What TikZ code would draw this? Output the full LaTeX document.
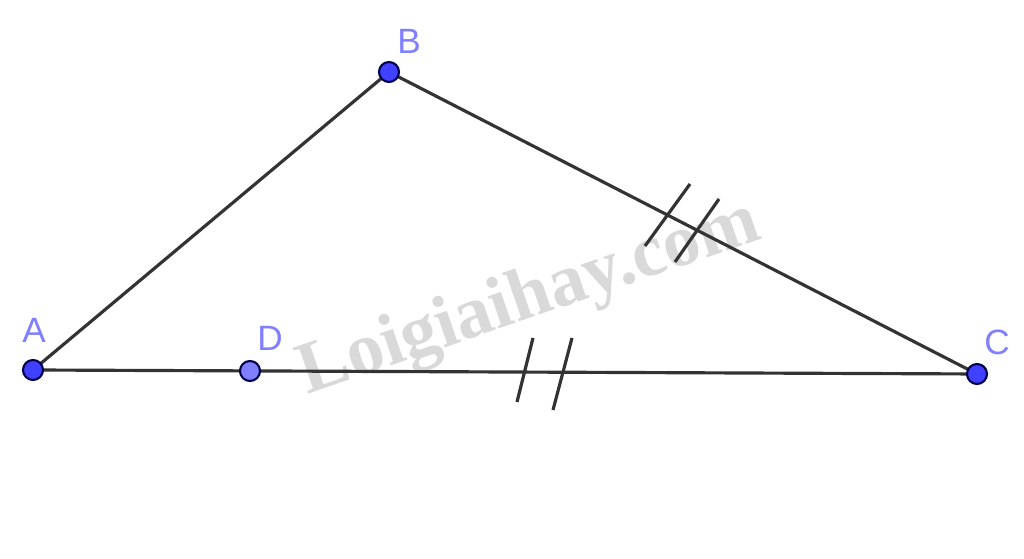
\documentclass[tikz,border=0pt]{standalone}
\usepackage{fontspec}
\setmainfont{Liberation Sans}
\newfontfamily\wmfont{Liberation Serif}
\begin{document}
\begin{tikzpicture}[x=0.01cm,y=-0.01cm,
  pt/.style={circle,draw=black!70!blue,line width=0.6pt,fill=blue!75!white,inner sep=0pt,minimum size=0.2cm},
  ptlight/.style={pt,fill=blue!50!white},
  lbl/.style={text=blue!50!white,font=\fontsize{10}{12}\selectfont},
  seg/.style={draw=black!80,line width=0.9pt},
  tick/.style={draw=black!80,line width=0.9pt}]
\useasboundingbox (0,0) rectangle (1024,559);
\fill[white] (0,0) rectangle (1024,559);
\node[rotate=19,text=black!15,font=\wmfont\bfseries\fontsize{21}{24}\selectfont] (wm) at (530,300) {Loigiaihay.com};
\coordinate (Ap) at (33,370);
\coordinate (Bp) at (389,72);
\coordinate (Cp) at (977,374);
\coordinate (Dp) at (250,371);
\draw[seg] (Ap) -- (Bp) -- (Cp) -- (Ap);
\draw[tick] (690,184) -- (645,246);
\draw[tick] (719,199) -- (675,262);
\draw[tick] (533,338) -- (517,402);
\draw[tick] (572,338) -- (553,410);
\node[pt] (A) at (Ap) {};
\node[pt] (B) at (Bp) {};
\node[pt] (C) at (Cp) {};
\node[ptlight] (D) at (Dp) {};
\node[lbl] (lA) at (34,330) {A};
\node[lbl] (lB) at (409,41) {B};
\node[lbl] (lC) at (997,342) {C};
\node[lbl] (lD) at (270,338) {D};
\end{tikzpicture}
\end{document}
